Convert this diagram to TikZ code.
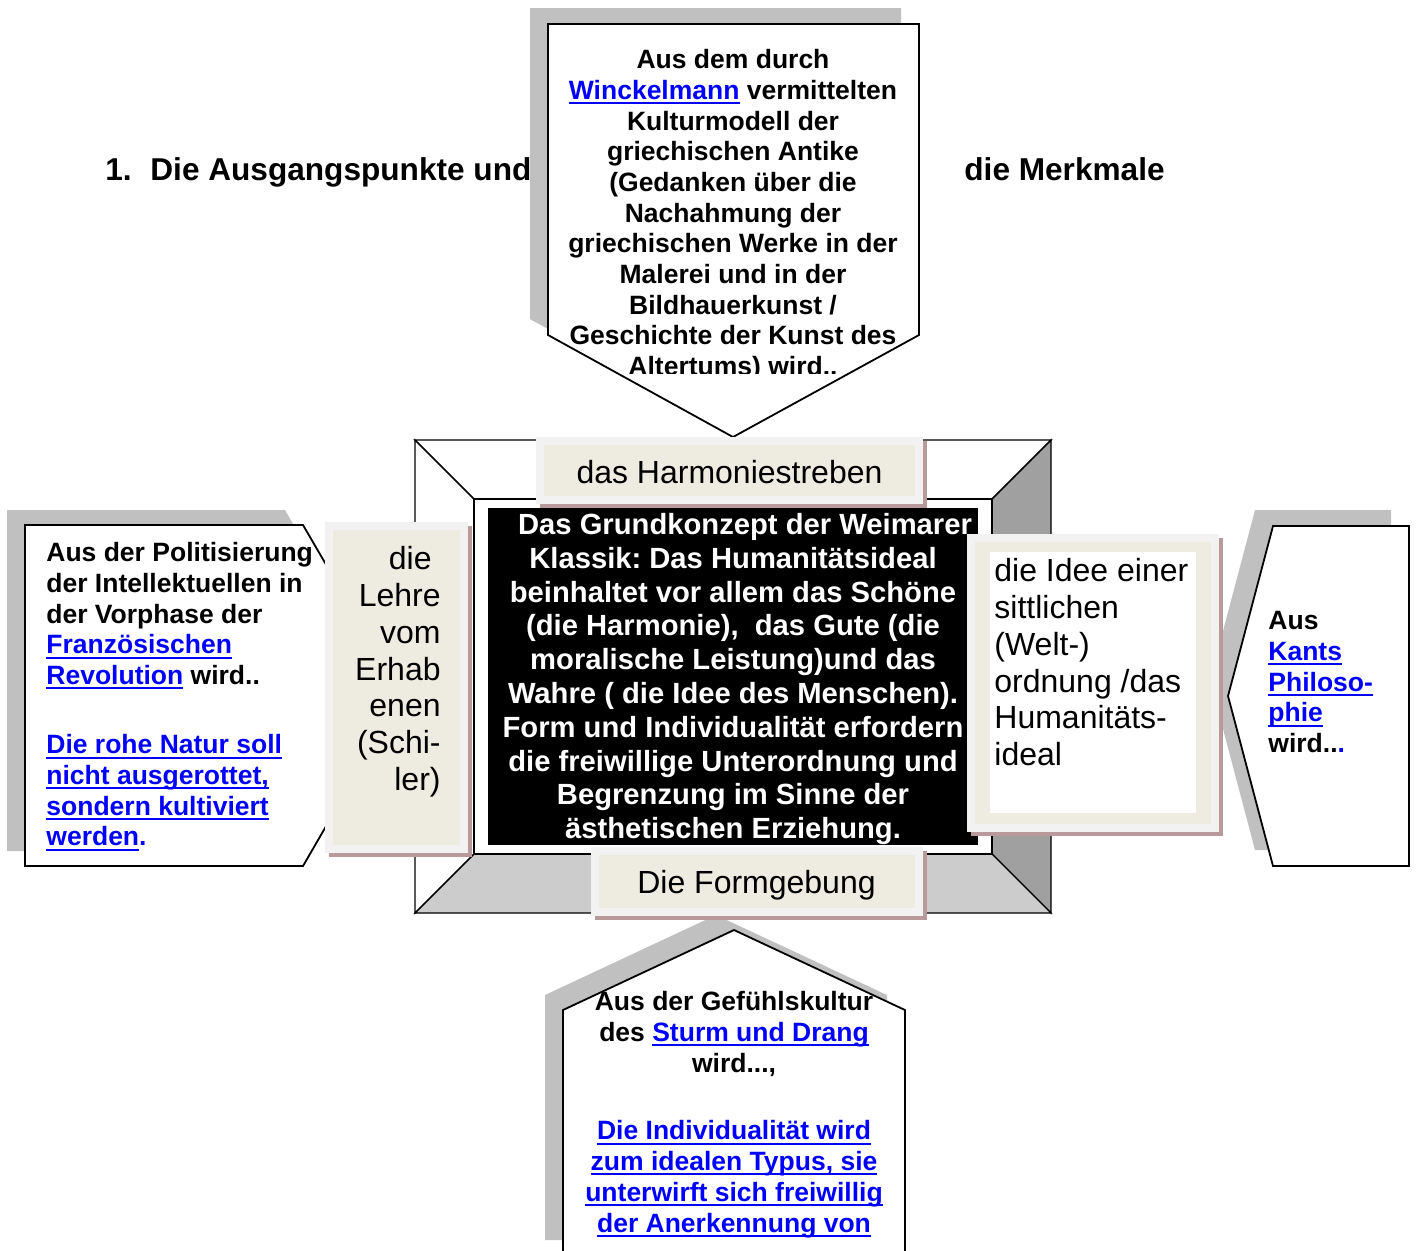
\documentclass[tikz,border=0pt]{standalone}
\usepackage{fontspec}
\setmainfont{Liberation Sans}
\frenchspacing
\definecolor{shadowgray}{HTML}{C0C0C0}
\definecolor{bevdark}{HTML}{A0A0A0}
\definecolor{bevlight}{HTML}{CCCCCC}
\definecolor{beige}{HTML}{EEECE1}
\definecolor{lightrim}{HTML}{F2F2F2}
\definecolor{rimshadow}{HTML}{B89A9A}
\definecolor{linkblue}{HTML}{0000FF}
\newcommand\linkul[1]{{\color{linkblue}\setbox0\hbox{#1}\rlap{\rule[-2.4pt]{\wd0}{1pt}}\box0}}

\begin{document}
\begin{tikzpicture}[x=0.5pt,y=-0.5pt]
    \tikzset{
      shade/.style={fill=shadowgray, draw=none},
      callout/.style={fill=white, draw=black, line width=0.9pt, line join=miter},
      calltext/.style={inner sep=0pt, font=\fontsize{13.25}{15.35}\selectfont\bfseries},
      bev/.style={draw=black, line width=0.7pt, line join=miter},
      lbox/.style={fill=beige, draw=lightrim, line width=4pt, inner sep=0pt,
        preaction={draw=rimshadow, line width=4pt,
          transform canvas={shift={(1.75pt,-1.75pt)}}}},
      ltext/.style={inner sep=0pt, font=\fontsize{16}{18.4}\selectfont}
    }
    \useasboundingbox (0,0) rectangle (1416,1250);

    \node[anchor=base west, inner sep=0pt, font=\fontsize{15.8}{18}\selectfont\bfseries] (num) at (105,180) {1.};
    \node[anchor=base west, inner sep=0pt, font=\fontsize{15.8}{18}\selectfont\bfseries] (titlea) at (150,180) {Die Ausgangspunkte und};
    \node[anchor=base west, inner sep=0pt, font=\fontsize{15.8}{18}\selectfont\bfseries] (titleb) at (964,180) {die Merkmale};

    % Winckelmann
    \fill[shade] (530,8) -- (901,8) -- (901,319) -- (715,421) -- (530,319) -- cycle;
    \filldraw[callout] (548,24) -- (919,24) -- (919,335) -- (733,437) -- (548,335) -- cycle;
    \begin{scope}
      \clip (548,24) rectangle (919,373);
      \node[calltext, anchor=north, align=center] (antike) at (733,49)
        {Aus dem durch\\ \linkul{Winckelmann} vermittelten\\ Kulturmodell der\\
         griechischen Antike\\ (Gedanken über die\\ Nachahmung der\\
         griechischen Werke in der\\ Malerei und in der\\ Bildhauerkunst /\\
         Geschichte der Kunst des\\ Altertums) wird..};
    \end{scope}

    % frame
    \coordinate (otl) at (415,440);
    \coordinate (otr) at (1051,440);
    \coordinate (obr) at (1051,913);
    \coordinate (obl) at (415,913);
    \coordinate (itl) at (474,499);
    \coordinate (itr) at (992,499);
    \coordinate (ibr) at (992,854);
    \coordinate (ibl) at (474,854);
    \filldraw[bev, fill=white] (otl) -- (otr) -- (itr) -- (itl) -- cycle;
    \filldraw[bev, fill=white] (otl) -- (itl) -- (ibl) -- (obl) -- cycle;
    \filldraw[bev, fill=bevdark] (otr) -- (obr) -- (ibr) -- (itr) -- cycle;
    \filldraw[bev, fill=bevlight] (obl) -- (obr) -- (ibr) -- (ibl) -- cycle;
    \filldraw[bev, fill=white] (itl) rectangle (ibr);

    % Revolution
    \fill[shade] (7,510) -- (285,510) -- (384,680) -- (285,851) -- (7,851) -- cycle;
    \filldraw[callout] (25,525) -- (303,525) -- (402,695) -- (303,866) -- (25,866) -- cycle;
    \node[calltext, anchor=north west, align=left] (revolution) at (46,542)
      {Aus der Politisierung\\ der Intellektuellen in\\ der Vorphase der\\
       \linkul{Französischen}\\ \linkul{Revolution} wird..\\[19.3pt]
       \linkul{Die rohe Natur soll}\\ \linkul{nicht ausgerottet,}\\
       \linkul{sondern kultiviert}\\ \linkul{werden}\textcolor{linkblue}{.}};

    % Kant
    \fill[shade] (1255,510) -- (1391,510) -- (1391,850) -- (1255,850) -- (1210,680) -- cycle;
    \filldraw[callout] (1273,526) -- (1409,526) -- (1409,866) -- (1273,866) -- (1228,696) -- cycle;
    \node[calltext, anchor=north west, align=left] (kant) at (1268,611)
      {Aus\\ \linkul{Kants}\\ \linkul{Philoso-}\\ \linkul{phie}\\ wird..\textcolor{linkblue}{.}};

    % Sturm und Drang
    \fill[shade] (716,915) -- (887,995) -- (887,1240) -- (545,1240) -- (545,995) -- cycle;
    \filldraw[callout] (734,930) -- (905,1010) -- (905,1262) -- (563,1262) -- (563,1010) -- cycle;
    \node[calltext, anchor=north, align=center] (sturm) at (734,991)
      {Aus der Gefühlskultur\\ des \linkul{Sturm und Drang}\\ wird...,\\[18.6pt]
       \linkul{Die Individualität wird}\\ \linkul{zum idealen Typus, sie}\\
       \linkul{unterwirft sich freiwillig}\\ \linkul{der Anerkennung von}};

    % center
    \node[fill=black, inner sep=0pt, minimum width=245pt, minimum height=168.5pt] (kern) at (733,676.5) {};
    \node[inner sep=0pt, anchor=north, align=center, text=white,
          font=\fontsize{14.6}{16.9}\selectfont\bfseries] (kerntext) at (733,513)
      {\hspace*{12pt}Das Grundkonzept der Weimarer\\ Klassik: Das Humanitätsideal\\
       beinhaltet vor allem das Schöne\\ (die Harmonie),\ \ das Gute (die\\
       moralische Leistung)und das\\ Wahre ( die Idee des Menschen).\\
       Form und Individualität erfordern\\ die freiwillige Unterordnung und\\
       Begrenzung im Sinne der\\ ästhetischen Erziehung.};

    % labels
    \node[lbox, minimum width=189.5pt, minimum height=29.5pt] (harmbox) at (729.5,470.5) {};
    \node[ltext, anchor=base] (harm) at (729.5,483) {das Harmoniestreben};
    \node[lbox, minimum width=162pt, minimum height=30.5pt] (formbox) at (757,881.5) {};
    \node[ltext, anchor=base] (form) at (756.5,893) {Die Formgebung};
    \node[lbox, minimum width=67.5pt, minimum height=161.5pt] (lehrebox) at (396.5,687.5) {};
    \node[ltext, anchor=north east, align=right] (lehre) at (441,546)
      {die\hspace*{4.5pt}\\ Lehre\\ vom\\ Erhab\\ enen\\ (Schi-\\ ler)};
    \node[lbox, minimum width=122pt, minimum height=145pt] (ideebox) at (1093,683) {};
    \node[fill=white, inner sep=0pt, minimum width=103pt, minimum height=130.5pt] (ideefeld) at (1093,682.5) {};
    \node[ltext, anchor=north west, align=left] (idee) at (994,558)
      {die Idee einer\\ sittlichen\\ (Welt-)\\ ordnung /das\\ Humanitäts-\\ ideal};
\end{tikzpicture}
\end{document}
